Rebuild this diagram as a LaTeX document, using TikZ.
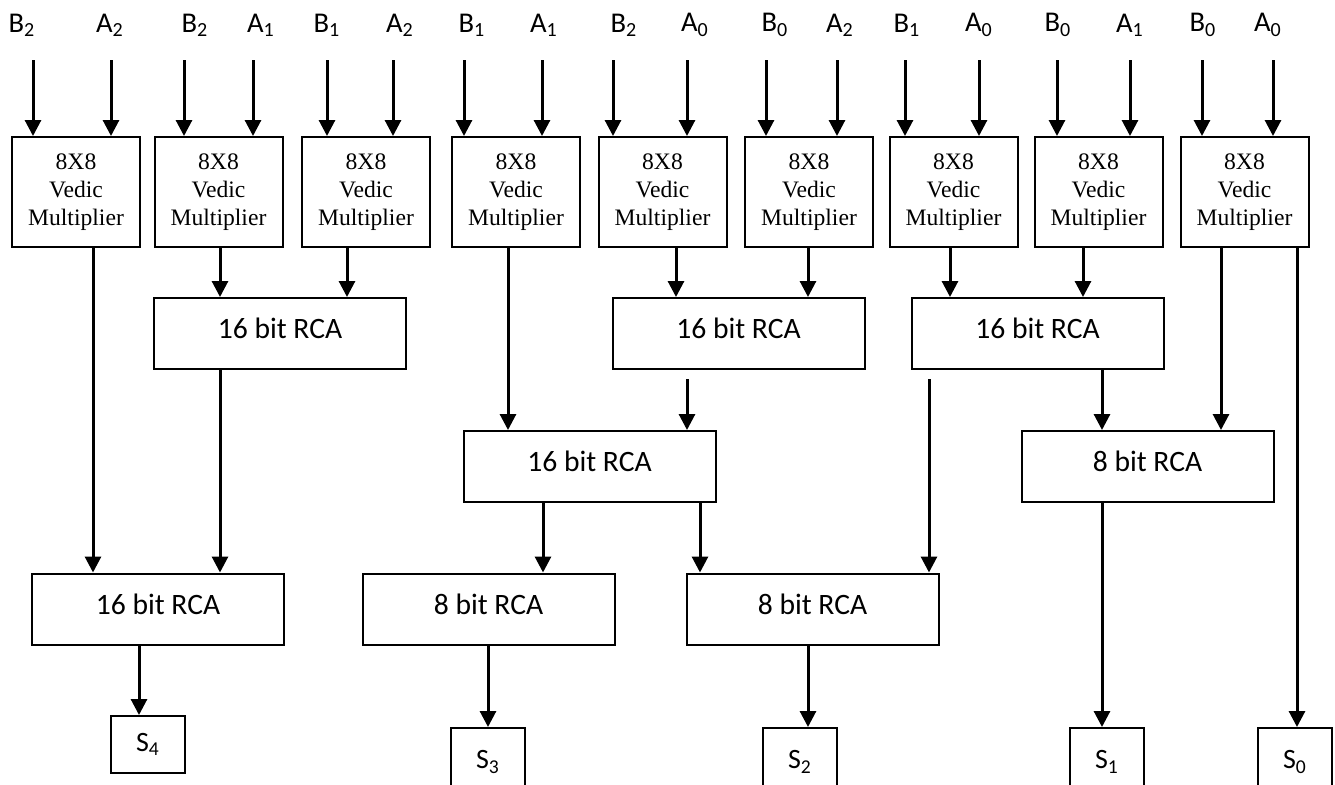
\documentclass[tikz,border=0pt]{standalone}
\usepackage{fontspec}
\setmainfont{Carlito}
\newfontfamily\timesf{Liberation Serif}
\usetikzlibrary{arrows.meta}
\tikzset{
 arr/.style={-{Triangle[length=8pt,width=8pt]}, line width=1.5pt},
 mult/.style={draw, line width=1pt, minimum width=64pt, minimum height=55pt, inner sep=0pt, align=center, font=\timesf\fontsize{11.8}{14}\selectfont},
 rca/.style={draw, line width=1pt, minimum width=126pt, minimum height=35.5pt, inner sep=0pt, text depth=5pt, font=\fontsize{14.8}{17}\selectfont},
 sbox/.style={draw, line width=1pt, minimum width=37pt, inner sep=0pt, font=\fontsize{14}{17}\selectfont},
 lbl/.style={font=\fontsize{14.3}{17}\selectfont, inner sep=0pt},
}
\newcommand\vlink[3]{\coordinate (vx) at (#1,0); \draw[arr] (vx |- #2) -- (vx |- #3);}
\begin{document}
\begin{tikzpicture}[x=0.5pt,y=-0.5pt]
\useasboundingbox (0,0) rectangle (1335,784);
\clip (0,0) rectangle (1335,784);
\fill[white] (0,0) rectangle (1335,784);
% input labels
\foreach \k/\lx/\L/\n in {1/22/B/2,2/110/A/2,3/195/B/2,4/261/A/1,5/327/B/1,6/400/A/2,7/472/B/1,8/544/A/1,9/624/B/2,10/695/A/0,11/775/B/0,12/840/A/2,13/907/B/1,14/979/A/0,15/1058/B/0,16/1130/A/1,17/1203/B/0,18/1268/A/0}
  \node[lbl] (t\k) at (\lx,25) {\L\textsubscript{\n}};
% multipliers
\foreach \k/\x in {1/76,2/218.5,3/366,4/516,5/662.5,6/809,7/953.5,8/1098.5,9/1244.5}
  \node[mult] (m\k) at (\x,192) {8X8\\Vedic\\Multiplier};
% input arrows
\foreach \k/\xa/\xb in {1/33/111,2/184/253,3/327/393,4/464/542,5/613/687,6/766/837,7/905/979,8/1057/1130,9/1202/1273}{
  \coordinate (ia\k) at (\xa,60);
  \coordinate (ib\k) at (\xb,60);
  \draw[arr] (ia\k) -- (ia\k |- m\k.north);
  \draw[arr] (ib\k) -- (ib\k |- m\k.north);
}
% adders
\node[rca] (r1) at (280,333.5) {16 bit RCA};
\node[rca] (r2) at (738.5,333.5) {16 bit RCA};
\node[rca] (r3) at (1037.5,333.5) {16 bit RCA};
\node[rca] (r4) at (589.5,466.5) {16 bit RCA};
\node[rca] (r5) at (1147.5,466.5) {8 bit RCA};
\node[rca] (r6) at (158,609) {16 bit RCA};
\node[rca] (r7) at (488.5,609) {8 bit RCA};
\node[rca] (r8) at (812.5,609) {8 bit RCA};
% outputs
\node[sbox, minimum height=28.5pt] (s4) at (148,744.5) {S\textsubscript{4}};
\node[sbox, minimum height=34pt] (s3) at (488,762) {S\textsubscript{3}};
\node[sbox, minimum height=34pt] (s2) at (800,762) {S\textsubscript{2}};
\node[sbox, minimum height=34pt] (s1) at (1107,762) {S\textsubscript{1}};
\node[sbox, minimum height=34pt] (s0) at (1295,762) {S\textsubscript{0}};
% connectors
\vlink{93}{m1.south}{r6.north}
\vlink{220}{m2.south}{r1.north}
\vlink{347}{m3.south}{r1.north}
\vlink{508}{m4.south}{r4.north}
\vlink{676}{m5.south}{r2.north}
\vlink{808}{m6.south}{r2.north}
\vlink{950}{m7.south}{r3.north}
\vlink{1083}{m8.south}{r3.north}
\vlink{1221}{m9.south}{r5.north}
\vlink{1297}{m9.south}{s0.north}
\vlink{220}{r1.south}{r6.north}
\vlink{1102}{r3.south}{r5.north}
\vlink{543}{r4.south}{r7.north}
\vlink{700}{r4.south}{r8.north}
\vlink{1102}{r5.south}{s1.north}
\vlink{139}{r6.south}{s4.north}
\vlink{488}{r7.south}{s3.north}
\vlink{808}{r8.south}{s2.north}
\coordinate (g1) at (687,379);
\coordinate (g2) at (929,379);
\draw[arr] (g1) -- (g1 |- r4.north);
\draw[arr] (g2) -- (g2 |- r8.north);
\end{tikzpicture}
\end{document}
